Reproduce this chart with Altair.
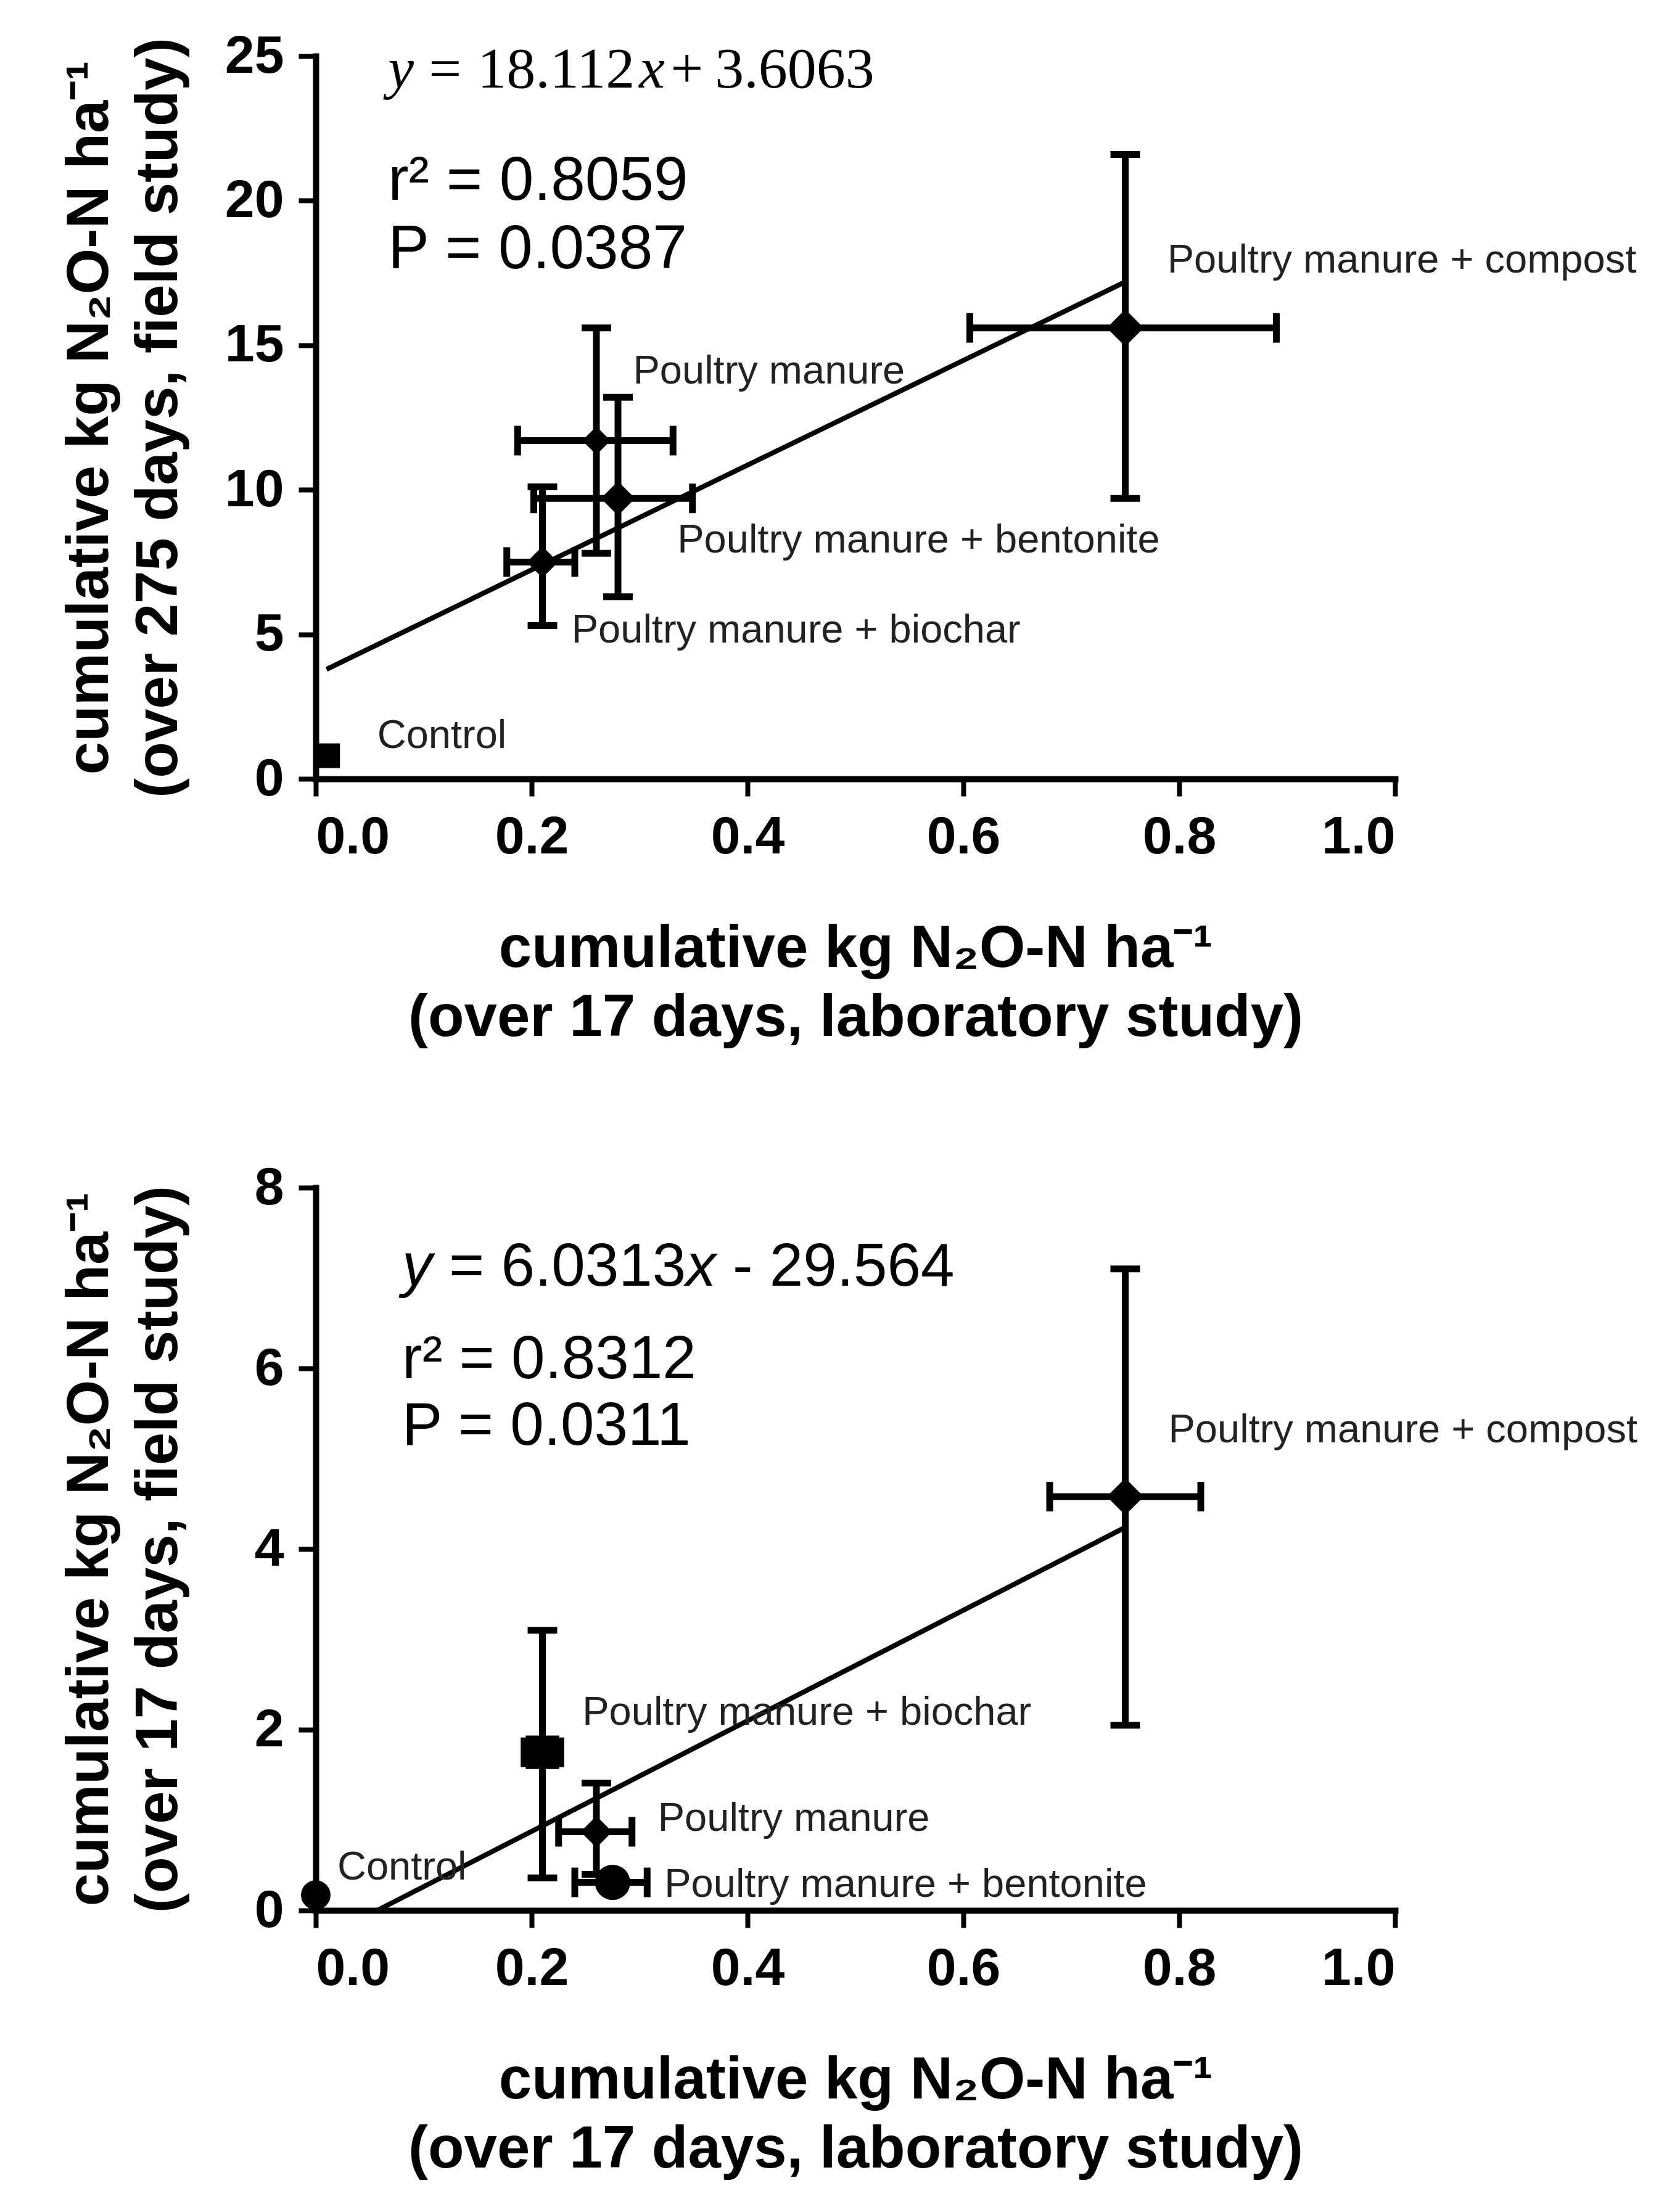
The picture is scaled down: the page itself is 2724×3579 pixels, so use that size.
import altair as alt
import pandas as pd

# treatment groups, same order in both panels
groups = ["Control", "Poultry manure", "Poultry manure + biochar",
          "Poultry manure + bentonite", "Poultry manure + compost"]

# top panel: lab (17 d) vs field (275 d)
top_x = [0.011, 0.26, 0.21, 0.28, 0.75]
top_y = [0.8, 11.7, 7.5, 9.7, 15.6]
top_x_lo = [None, 0.187, 0.177, 0.202, 0.606]
top_x_hi = [None, 0.331, 0.240, 0.349, 0.890]
top_y_lo = [None, 7.8, 5.3, 6.3, 9.7]
top_y_hi = [None, 15.6, 10.1, 13.2, 21.6]
top_fit_x = [0.01, 0.75]
top_fit_y = [3.79, 17.19]

# bottom panel: lab (17 d) vs field (17 d)
bot_x = [0.0, 0.26, 0.21, 0.275, 0.75]
bot_y = [0.17, 0.87, 1.75, 0.31, 4.58]
bot_x_lo = [None, 0.225, 0.193, 0.24, 0.68]
bot_x_hi = [None, 0.293, 0.227, 0.307, 0.82]
bot_y_lo = [None, 0.4, 0.36, 0.25, 2.05]
bot_y_hi = [None, 1.41, 3.1, 0.37, 7.1]
bot_fit_x = [0.057, 0.75]
bot_fit_y = [0.0, 4.24]

x_ticks = [0.0, 0.2, 0.4, 0.6, 0.8, 1.0]
top_y_ticks = [0, 5, 10, 15, 20, 25]
bot_y_ticks = [0, 2, 4, 6, 8]

x_title = ["cumulative kg N\u2082O-N ha\u207b\u00b9", "(over 17 days, laboratory study)"]
top_y_title = ["cumulative kg N\u2082O-N ha\u207b\u00b9", "(over 275 days, field study)"]
bot_y_title = ["cumulative kg N\u2082O-N ha\u207b\u00b9", "(over 17 days, field study)"]

# point labels (text, x, y in data units)
top_labels = [("Poultry manure + compost", 0.789, 17.95),
              ("Poultry manure", 0.294, 14.1),
              ("Poultry manure + bentonite", 0.335, 8.25),
              ("Poultry manure + biochar", 0.237, 5.15),
              ("Control", 0.057, 1.5)]
bot_labels = [("Poultry manure + compost", 0.79, 5.32),
              ("Poultry manure + biochar", 0.247, 2.19),
              ("Poultry manure", 0.317, 1.02),
              ("Poultry manure + bentonite", 0.323, 0.29),
              ("Control", 0.02, 0.48)]

top_stats = [("r\u00b2 = 0.8059", 0.067, 20.66), ("P = 0.0387", 0.067, 18.3)]
bot_stats = [("r\u00b2 = 0.8312", 0.08, 6.09), ("P = 0.0311", 0.08, 5.35)]

# equation pieces: text, italic, pixel offset from the left anchor
top_eq = [("y", True, 0), ("=", False, 66), ("18.112", False, 145),
          ("x", True, 407), ("+", False, 458), ("3.6063", False, 530)]
top_eq_pos = (0.067, 24.5)
bot_eq = [("y", True, 0), ("= 6.0313", False, 76), ("x", True, 460),
          ("- 29.564", False, 536)]
bot_eq_pos = (0.08, 7.11)

# marker shape and area per group
top_markers = ["square", "diamond", "diamond", "diamond", "diamond"]
top_sizes = [1600, 3600, 3600, 3600, 3600]
bot_markers = ["circle", "diamond", "square", "circle", "diamond"]
bot_sizes = [2300, 3600, 1700, 2100, 3600]

SANS = "Liberation Sans"
SERIF = "Liberation Serif"
W, H = 1750, 1172
LW = 11


def panel(xs, ys, xlo, xhi, ylo, yhi, fit_x, fit_y, y_max, y_ticks, y_title,
          markers, sizes, labels, stats, stat_size, eq, eq_pos, eq_font, eq_size):
    df = pd.DataFrame({"group": groups, "x": xs, "y": ys,
                       "x_lo": xlo, "x_hi": xhi, "y_lo": ylo, "y_hi": yhi})
    err = df.dropna()
    xsc = alt.Scale(domain=[0, 1], nice=False, zero=False)
    ysc = alt.Scale(domain=[0, y_max], nice=False, zero=False)
    xax = alt.Axis(values=x_ticks, format=".1f", title=x_title, titleY=228)
    yax = alt.Axis(values=y_ticks, format="d", title=y_title, titleX=-318)
    xq = lambda f: alt.X(f, type="quantitative", scale=xsc, axis=xax)
    yq = lambda f: alt.Y(f, type="quantitative", scale=ysc, axis=yax)

    vbar = alt.Chart(err).mark_rule(color="black", strokeWidth=LW).encode(
        x=xq("x"), y=yq("y_lo"), y2="y_hi")
    hbar = alt.Chart(err).mark_rule(color="black", strokeWidth=LW).encode(
        x=xq("x_lo"), x2="x_hi", y=yq("y"))
    cap_h = alt.Chart(err).transform_fold(["y_lo", "y_hi"], as_=["k", "yc"]).mark_point(
        shape="M-1,0L1,0", filled=False, color="black", strokeWidth=LW, size=2300, opacity=1
    ).encode(x=xq("x"), y=yq("yc"))
    cap_v = alt.Chart(err).transform_fold(["x_lo", "x_hi"], as_=["k", "xc"]).mark_point(
        shape="M0,-1L0,1", filled=False, color="black", strokeWidth=LW, size=2300, opacity=1
    ).encode(x=xq("xc"), y=yq("y"))

    fit = alt.Chart(pd.DataFrame({"x": fit_x, "y": fit_y})).mark_line(
        color="black", strokeWidth=8).encode(x=xq("x"), y=yq("y"))

    pts = alt.Chart(df).mark_point(filled=True, color="black", opacity=1).encode(
        x=xq("x"), y=yq("y"),
        shape=alt.Shape("group:N", scale=alt.Scale(domain=groups, range=markers), legend=None),
        size=alt.Size("group:N", scale=alt.Scale(domain=groups, range=sizes), legend=None),
    )

    lab_df = pd.DataFrame(labels, columns=["t", "x", "y"])
    labs = alt.Chart(lab_df).mark_text(
        align="left", baseline="middle", font=SANS, fontSize=65, color="#222"
    ).encode(x=xq("x"), y=yq("y"), text="t:N")

    st_df = pd.DataFrame(stats, columns=["t", "x", "y"])
    st = alt.Chart(st_df).mark_text(
        align="left", baseline="middle", font=SANS, fontSize=stat_size, color="black"
    ).encode(x=xq("x"), y=yq("y"), text="t:N")

    eq_layers = []
    for text, italic, off in eq:
        d = pd.DataFrame({"t": [text], "x": [eq_pos[0]], "y": [eq_pos[1]]})
        eq_layers.append(alt.Chart(d).mark_text(
            align="left", baseline="middle", font=eq_font, fontSize=eq_size,
            fontStyle="italic" if italic else "normal", dx=off, color="black"
        ).encode(x=xq("x"), y=yq("y"), text="t:N"))

    return alt.layer(pts, fit, vbar, hbar, cap_h, cap_v, labs, st, *eq_layers).properties(
        width=W, height=H)


top = panel(top_x, top_y, top_x_lo, top_x_hi, top_y_lo, top_y_hi, top_fit_x, top_fit_y,
            25, top_y_ticks, top_y_title, top_markers, top_sizes, top_labels, top_stats, 100,
            top_eq, top_eq_pos, SERIF, 94)
bot = panel(bot_x, bot_y, bot_x_lo, bot_x_hi, bot_y_lo, bot_y_hi, bot_fit_x, bot_fit_y,
            8, bot_y_ticks, bot_y_title, bot_markers, bot_sizes, bot_labels, bot_stats, 98,
            bot_eq, bot_eq_pos, SANS, 98)

chart = alt.vconcat(top, bot, spacing=185).resolve_scale(
    shape="independent", size="independent"
).properties(
    padding={"left": 88, "top": 40, "right": 20, "bottom": 20}
).configure_view(stroke=None).configure_axis(
    grid=False, domainColor="black", domainWidth=10, domainCap="square",
    tickColor="black", tickWidth=8, tickSize=28,
    labelFont=SANS, labelFontWeight="bold", labelFontSize=86, labelColor="black",
    labelPadding=24, titleFont=SANS, titleFontWeight="bold", titleFontSize=96,
    titleColor="black", titleLineHeight=112,
)

chart.save("out.html", embed_options={"renderer": "svg", "actions": False})
